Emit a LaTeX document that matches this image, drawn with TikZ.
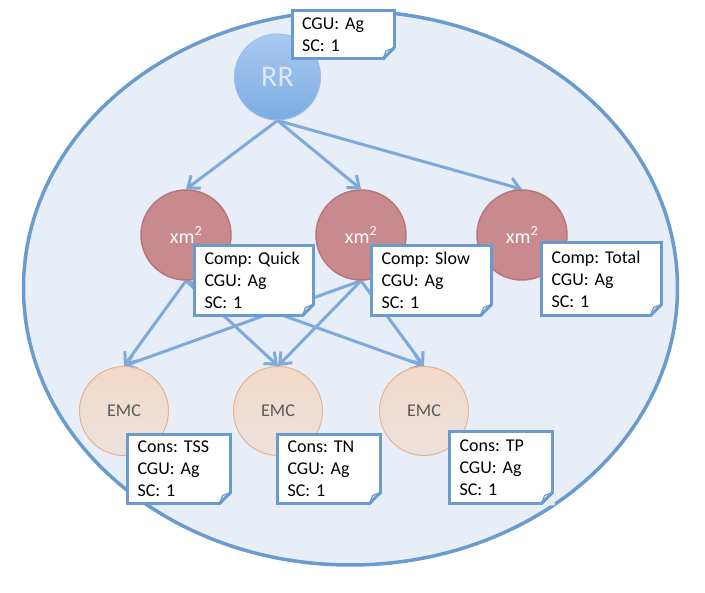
\documentclass[tikz,border=0pt]{standalone}
\usepackage{fontspec}
\setmainfont{Carlito}
\usetikzlibrary{arrows.meta,backgrounds}

\definecolor{bgc}{HTML}{E7EEF7}
\definecolor{rimc}{HTML}{6A9BCF}
\definecolor{notec}{HTML}{6A9BCF}
\definecolor{linkc}{HTML}{7DA9DB}
\definecolor{rrtop}{HTML}{A9C9F0}
\definecolor{rrbot}{HTML}{7CACE3}
\definecolor{rrline}{HTML}{9BBDE8}
\definecolor{rrtext}{HTML}{DDE8F6}
\definecolor{xmfill}{HTML}{C98A8E}
\definecolor{xmline}{HTML}{B8767B}
\definecolor{emctop}{HTML}{F3D9C8}
\definecolor{emcbot}{HTML}{ECE2DE}
\definecolor{emcline}{HTML}{E7B48F}
\definecolor{emctext}{HTML}{595959}

\begin{document}
\frenchspacing
\begin{tikzpicture}[x=1pt,y=-1pt,
    rrball/.style={circle, minimum size=86pt, inner sep=0pt, top color=rrtop, bottom color=rrbot, draw=rrline, line width=1pt, text=rrtext, font=\fontsize{30}{30}\selectfont},
    xmball/.style={circle, minimum size=90pt, inner sep=0pt, fill=xmfill, draw=xmline, line width=1.5pt, text=white, font=\fontsize{20}{20}\selectfont},
    emcball/.style={circle, minimum size=89pt, inner sep=0pt, top color=emctop, bottom color=emcbot, draw=emcline, line width=1pt, text=emctext, font=\fontsize{18}{18}\selectfont},
    note/.style={rectangle, anchor=north west, fill=white, draw=notec, line width=3pt, outer sep=0pt, inner xsep=10pt, inner ysep=0pt, align=left, font=\fontsize{18}{22}\selectfont\frenchspacing},
    link/.style={draw=linkc, line width=3pt, -{Straight Barb[length=10pt,width=16pt]}}]

    \useasboundingbox (0,0) rectangle (705,593);
    \begin{scope}[on background layer]
        \draw [rimc, fill=bgc, line width=3.5pt] (350.5,288) ellipse [x radius=327, y radius=277];
    \end{scope}

    \node (rr) at (277.5,77) [rrball] {RR};
    \node (xq) at (186,235) [xmball] {xm\textsuperscript{2}};
    \node (xs) at (361,235) [xmball] {xm\textsuperscript{2}};
    \node (xt) at (522,235) [xmball] {xm\textsuperscript{2}};
    \node (e1) at (124,411) [emcball] {EMC};
    \node (e2) at (278,411) [emcball] {EMC};
    \node (e3) at (424,411) [emcball] {EMC};

    \begin{scope}[on background layer]
        \draw [link] (rr.south) -- (xq.north);
        \draw [link] (rr.south) -- (xs.north);
        \draw [link] (rr.south) -- (xt.north);
        \draw [link] (xq.south) -- (e1.north);
        \draw [link] (xq.south) -- (e2.north);
        \draw [link] (xq.south) -- (e3.north);
        \draw [link] (xs.south) -- (e1.north);
        \draw [link] (xs.south) -- (e2.north);
        \draw [link] (xs.south) -- (e3.north);
    \end{scope}

    \node (nrr) at (292,11) [note, text width=82pt, minimum height=48pt] {CGU: Ag\\SC: 1};
    \node (nq) at (194.5,245.5) [note, text width=99pt, minimum height=70pt] {Comp: Quick\\CGU: Ag\\SC: 1};
    \node (ns) at (371.5,245.5) [note, text width=100pt, minimum height=70pt] {Comp: Slow\\CGU: Ag\\SC: 1};
    \node (nt) at (541.5,242.5) [note, text width=100pt, minimum height=73pt] {Comp: Total\\CGU: Ag\\SC: 1};
    \node (ntss) at (127.5,434.5) [note, text width=83pt, minimum height=69pt] {Cons: TSS\\CGU: Ag\\SC: 1};
    \node (ntn) at (277.5,434.5) [note, text width=83pt, minimum height=69pt] {Cons: TN\\CGU: Ag\\SC: 1};
    \node (ntp) at (449.5,431.5) [note, text width=83pt, minimum height=72pt] {Cons: TP\\CGU: Ag\\SC: 1};

    \foreach \n in {nrr,nq,ns,nt,ntss,ntn,ntp} {
        \fill [bgc] ([xshift=-11pt,yshift=-2pt]\n.south east) -- ([xshift=2pt,yshift=-2pt]\n.south east) -- ([xshift=2pt,yshift=11pt]\n.south east) -- cycle;
        \draw [notec, line width=3pt, line cap=round] ([xshift=-11pt]\n.south east) -- ([yshift=11pt]\n.south east);
        \draw [notec, line width=1.2pt, line join=round] ([xshift=-11pt]\n.south east) -- ([xshift=-8pt,yshift=8pt]\n.south east) -- ([yshift=11pt]\n.south east);
    }
\end{tikzpicture}
\end{document}
